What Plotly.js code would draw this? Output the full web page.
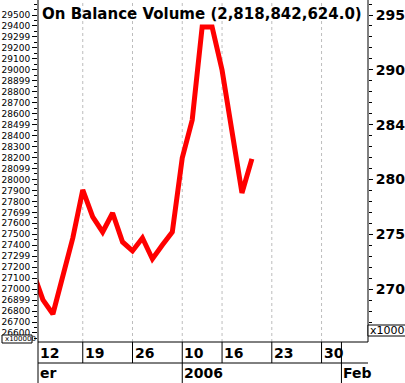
<!DOCTYPE html>
<html><head><meta charset="utf-8">
<script src="https://cdn.plot.ly/plotly-3.0.1.min.js"></script>
<style>html,body{margin:0;padding:0;background:#fff;overflow:hidden}#chart{width:405px;height:383px;}</style>
</head><body><div id="chart"></div>
<script>
// ---- data (OBV in units of 100,000) ----
const tradingDay = [0,1,2,3,4,5,6,7,8,9,10,11,12,13,14,15,16,17,18,19,20,21,22];
const obv = [27156,26901,26773,27101,27466,27904,27658,27521,27694,27430,27348,27466,27275,27402,27521,28196,28542,29391,29391,28998,28469,27877,28188];
const weekLabels = ["12","19","26","10","16","23","30"];
const weekStart  = [0,5,10,15,19,24,29];
const monthLabels = ["er","2006","Feb"];
const monthStart  = [0,15,31];
const leftTickVals = [26600,26700,26800,26900,27000,27100,27200,27300,27400,27500,27600,27700,27800,27900,28000,28100,28200,28300,28400,28500,28600,28700,28800,28900,29000,29100,29200,29300,29400,29500];
const leftTickText = ["26600","26700","26800","26899","27000","27100","27200","27299","27400","27500","27600","27699","27800","27900","28000","28099","28200","28300","28400","28499","28600","28700","28800","28899","29000","29100","29200","29299","29400","29500"];
const rightTickVals = [270,275,280,285,290,295];
const rightTickText = ["270","275","280","284","290","295"];
const titleText = "On Balance Volume (2,818,842,624.0)";

// ---- layout geometry ----
const W=405,H=383,L=38,R=368,T=0,B=342;
const pw=R-L, ph=B-T;
const px2x = p => (p-L)/pw;          // pixel -> paper x
const py2y = p => (B-p)/ph;          // pixel -> paper y
const xRange=[0.5025,33.668];
const yRange=[26517.6,29636.8];
const y2Range=[yRange[0]/100,yRange[1]/100];

const leftMinor=[]; for(let v=26550; v<=29600; v+=100) leftMinor.push(v); leftMinor.push(29600);
const rightMinor=[]; for(let v=266; v<=296; v++) if(v%5) rightMinor.push(v);

const bold={family:"DejaVu Sans",size:14,color:"#000",weight:"bold"};
const shapes=[], ann=[];
const ln=(x0,y0,x1,y1,xref,extra)=>Object.assign({type:"line",xref:xref||"paper",yref:"paper",x0,y0,x1,y1,line:{color:"#000",width:1},layer:"above"},extra||{});

// dashed grid
weekStart.forEach(i=>{ if(i>0) shapes.push({type:"line",xref:"x",yref:"paper",x0:i,x1:i,y0:0,y1:1,line:{color:"#bdbdbd",width:1,dash:"3px,3px"},layer:"below"}); });
// frame
shapes.push(ln(0,py2y(383),0,1));           // left axis
shapes.push(ln(1,0,1,1));                   // right axis
shapes.push(ln(0,0,1,0));                   // bottom of plot
shapes.push(ln(0,py2y(363),1,py2y(363)));   // bottom of week row
// week separators
weekStart.concat([31]).forEach(i=>{ if(i>0) shapes.push(ln(i,py2y(363),i,0,"x")); });
// month separators
monthStart.forEach(i=>{ if(i>0) shapes.push(ln(i,py2y(383),i,py2y(363),"x")); });
// unit boxes
shapes.push({type:"rect",xref:"paper",yref:"paper",x0:px2x(2),x1:px2x(32),y0:py2y(343),y1:py2y(335),line:{color:"#000",width:1},fillcolor:"#fff",layer:"above"});
shapes.push({type:"rect",xref:"paper",yref:"paper",x0:px2x(368),x1:px2x(420),y0:py2y(336),y1:py2y(325),line:{color:"#000",width:1},fillcolor:"#fff",layer:"above"});

ann.push({text:titleText,xref:"paper",yref:"paper",x:px2x(40),y:py2y(14),xanchor:"left",yanchor:"middle",showarrow:false,font:{family:"DejaVu Sans",size:15,color:"#000",weight:"bold"}});
weekLabels.forEach((t,k)=>ann.push({text:t,xref:"x",yref:"paper",x:Math.max(weekStart[k],xRange[0]),y:py2y(352.5),xanchor:"left",yanchor:"middle",showarrow:false,font:bold}));
monthLabels.forEach((t,k)=>ann.push({text:t,xref:"x",yref:"paper",x:Math.max(monthStart[k],xRange[0]),y:py2y(373),xanchor:"left",yanchor:"middle",showarrow:false,font:bold}));
ann.push({text:"x100000",xref:"paper",yref:"paper",x:px2x(3),y:py2y(339),xanchor:"left",yanchor:"middle",showarrow:false,font:{family:"DejaVu Sans",size:7,color:"#000"}});
ann.push({text:"x10000000",xref:"paper",yref:"paper",x:px2x(368),y:py2y(330.5),xanchor:"left",yanchor:"middle",showarrow:false,font:{family:"DejaVu Sans",size:11,color:"#000"}});

const traces=[
 {x:tradingDay,y:obv,type:"scatter",mode:"lines",line:{color:"#ff0000",width:5},hoverinfo:"skip",yaxis:"y"},
 {x:[tradingDay[0]],y:[obv[0]/100],type:"scatter",mode:"markers",marker:{opacity:0},hoverinfo:"skip",yaxis:"y2"}
];
const layout={
 width:W,height:H,margin:{l:L,r:W-R,t:T,b:H-B,pad:0},
 paper_bgcolor:"#fff",plot_bgcolor:"#fff",showlegend:false,
 xaxis:{range:xRange,showticklabels:false,ticks:"",showgrid:false,zeroline:false,showline:false,fixedrange:true},
 yaxis:{range:yRange,tickmode:"array",tickvals:leftTickVals,ticktext:leftTickText,ticks:"outside",ticklen:5,tickwidth:1,tickcolor:"#000",
   tickfont:{family:"DejaVu Sans",size:9,color:"#000"},showgrid:false,zeroline:false,showline:false,
   minor:{tickmode:"array",tickvals:leftMinor,ticks:"outside",ticklen:3,tickcolor:"#000",showgrid:false}},
 yaxis2:{range:y2Range,overlaying:"y",side:"right",tickmode:"array",tickvals:rightTickVals,ticktext:rightTickText,ticks:"outside",ticklen:4,tickwidth:1,tickcolor:"#000",
   tickfont:bold,showgrid:false,zeroline:false,showline:false,
   minor:{tickmode:"array",tickvals:rightMinor,ticks:"outside",ticklen:3,tickcolor:"#000",showgrid:false}},
 shapes:shapes,annotations:ann
};
Plotly.newPlot("chart",traces,layout,{staticPlot:true,displayModeBar:false});
</script></body></html>
